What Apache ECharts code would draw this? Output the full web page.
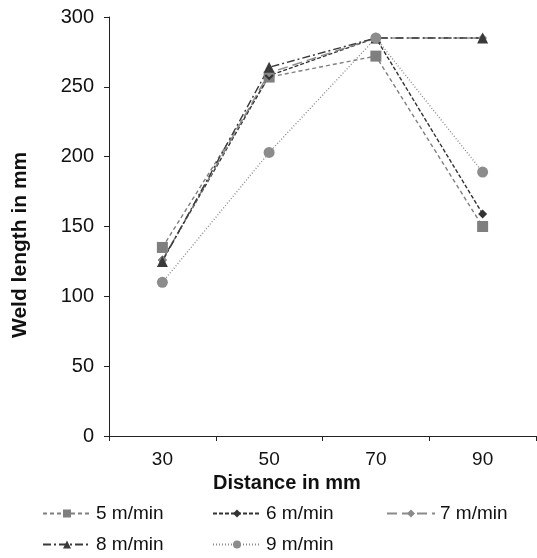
<!DOCTYPE html>
<html>
<head>
<meta charset="utf-8">
<script src="https://cdn.jsdelivr.net/npm/echarts@6/dist/echarts.min.js"></script>
<style>
  html, body { margin: 0; padding: 0; background: #fff; }
  #chart { width: 537px; height: 558px; }
</style>
</head>
<body>
<div id="chart"></div>
<script>
// distance categories (mm)
const distances = ['30', '50', '70', '90'];
const yTicks = [0, 50, 100, 150, 200, 250, 300];

// weld length in mm per speed
const speed5 = [135, 257, 272, 150];
const speed6 = [126, 258, 285, 159];
const speed7 = [126, 260, 285, 285];
const speed8 = [125, 264, 285, 285];
const speed9 = [110, 203, 285, 189];

const names = ['5 m/min', '6 m/min', '7 m/min', '8 m/min', '9 m/min'];

const font = 'Liberation Sans, Arial, sans-serif';

function mkSeries(name, data, color, symbol, size, dash) {
    return {
        name: name,
        type: 'line',
        data: data,
        symbol: symbol,
        symbolSize: size,
        itemStyle: { color: color },
        lineStyle: { color: color, width: 1.4, type: dash },
        z: 2
    };
}

const chart = echarts.init(document.getElementById('chart'));

// legend placed item by item (3 columns, 2 rows)
const legendPos = [
    { left: 42, top: 504 },
    { left: 212, top: 504 },
    { left: 386, top: 504 },
    { left: 42, top: 535 },
    { left: 212, top: 535 }
];

const option = {
    animation: false,
    textStyle: { fontFamily: font },
    grid: { left: 109, top: 17, right: 1, bottom: 122 },
    xAxis: {
        type: 'category',
        data: distances,
        boundaryGap: true,
        axisLine: { lineStyle: { color: '#222', width: 1 } },
        axisTick: { show: true, length: 5, interval: 0, lineStyle: { color: '#222' } },
        axisLabel: { color: '#111', fontSize: 19, fontFamily: font, margin: 14 }
    },
    yAxis: {
        type: 'value',
        min: yTicks[0],
        max: yTicks[yTicks.length - 1],
        interval: 50,
        splitLine: { show: false },
        axisLine: { show: true, lineStyle: { color: '#222', width: 1 } },
        axisTick: { show: true, length: 5, lineStyle: { color: '#222' } },
        axisLabel: { color: '#111', fontSize: 20, fontFamily: font, margin: 15 }
    },
    legend: names.map((n, i) => ({
        data: [n],
        left: legendPos[i].left,
        top: legendPos[i].top,
        padding: 0,
        itemWidth: 48,
        itemHeight: 10,
        itemGap: 0,
        textStyle: { fontSize: 19, color: '#111', fontFamily: font },
        selectedMode: false
    })),
    graphic: [
        {
            type: 'text',
            left: 213,
            top: 473,
            style: { text: 'Distance in mm', font: 'bold 20px ' + font, fill: '#111' }
        },
        {
            type: 'text',
            rotation: Math.PI / 2,
            x: 10,
            y: 338,
            style: { text: 'Weld length in mm', font: 'bold 21px ' + font, fill: '#111' }
        }
    ],
    series: [
        mkSeries(names[0], speed5, '#7f7f7f', 'rect', 11, [4, 3]),
        mkSeries(names[1], speed6, '#333333', 'diamond', 9, [4, 2]),
        mkSeries(names[2], speed7, '#8a8a8a', 'diamond', 9, [10, 5]),
        mkSeries(names[3], speed8, '#3a3a3a', 'triangle', 11, [8, 3, 2, 3]),
        mkSeries(names[4], speed9, '#8c8c8c', 'circle', 11, [1, 2])
    ]
};

chart.setOption(option);
</script>
</body>
</html>
